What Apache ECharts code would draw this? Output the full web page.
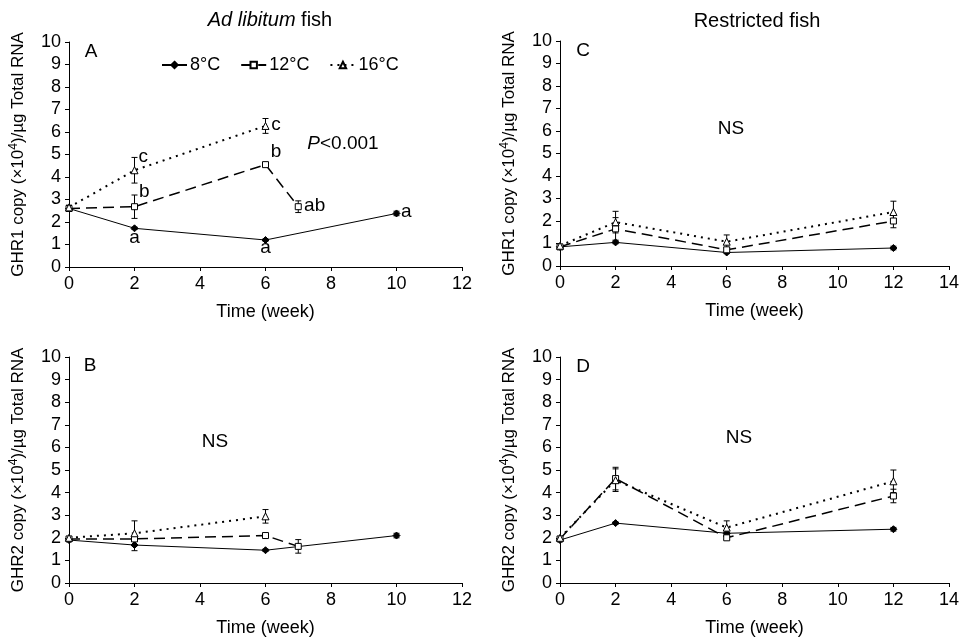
<!DOCTYPE html>
<html>
<head>
<meta charset="utf-8">
<script src="https://cdn.jsdelivr.net/npm/echarts@6/dist/echarts.min.js"></script>
<style>
html, body { margin: 0; background: #fff; }
#chart { width: 962px; height: 642px; }
</style>
</head>
<body>
<div id="chart"></div>
<script>
// [week, mean, SE]
const adLibGHR1_8 = [[0, 2.6, 0.08], [2, 1.72, 0.05], [6, 1.2, 0.05], [10, 2.38, 0.1]];
const adLibGHR1_12 = [[0, 2.6, 0.08], [2, 2.68, 0.52], [6, 4.55, 0.05], [7, 2.68, 0.26]];
const adLibGHR1_16 = [[0, 2.65, 0.1], [2, 4.3, 0.57], [6, 6.27, 0.33]];

const restrGHR1_8 = [[0, 0.85, 0.05], [2, 1.05, 0.06], [6, 0.6, 0.05], [12, 0.8, 0.08]];
const restrGHR1_12 = [[0, 0.85, 0.05], [2, 1.65, 0.5], [6, 0.72, 0.1], [12, 2.0, 0.3]];
const restrGHR1_16 = [[0, 0.9, 0.05], [2, 1.95, 0.48], [6, 1.08, 0.3], [12, 2.4, 0.48]];

const adLibGHR2_8 = [[0, 1.9, 0.05], [2, 1.68, 0.25], [6, 1.45, 0.05], [10, 2.1, 0.1]];
const adLibGHR2_12 = [[0, 1.95, 0.05], [2, 1.95, 0.1], [6, 2.1, 0.05], [7, 1.62, 0.3]];
const adLibGHR2_16 = [[0, 2.0, 0.05], [2, 2.2, 0.55], [6, 2.95, 0.3]];

const restrGHR2_8 = [[0, 1.9, 0.05], [2, 2.65, 0.05], [6, 2.2, 0.05], [12, 2.38, 0.08]];
const restrGHR2_12 = [[0, 1.95, 0.05], [2, 4.62, 0.5], [6, 2.0, 0.08], [12, 3.85, 0.3]];
const restrGHR2_16 = [[0, 2.0, 0.05], [2, 4.55, 0.5], [6, 2.45, 0.3], [12, 4.5, 0.5]];

// significance letters in panel A: [week, value, text]
const lettersA = [
    [2, 1.3, 'a'], [6, 0.84, 'a'], [10.3, 2.44, 'a'],
    [2.3, 3.33, 'b'], [6.32, 5.1, 'b'], [7.5, 2.72, 'ab'],
    [2.27, 4.9, 'c'], [6.32, 6.3, 'c']
];

const seriesNames = ['8°C', '12°C', '16°C'];
const xMaxes = [12, 14, 12, 14];
const yNames = ['GHR1', 'GHR1', 'GHR2', 'GHR2'];

const FONT = 'Liberation Sans, Arial, sans-serif';

const looks = {
    '8°C': { symbol: 'diamond', size: 7, fill: '#000', lineType: 'solid', width: 1 },
    '12°C': { symbol: 'rect', size: 6, fill: '#fff', lineType: [11, 6], width: 1.5 },
    '16°C': { symbol: 'triangle', size: 7, fill: '#fff', lineType: [2, 5], width: 2 },
};

const grids = [
    { left: 69, width: 393, top: 42, height: 225 },
    { left: 560, width: 393, top: 41, height: 225 },
    { left: 69, width: 393, top: 357, height: 226 },
    { left: 560, width: 393, top: 357, height: 226 },
];

function renderErr(params, api) {
    const x = api.value(0);
    const lo = api.coord([x, api.value(1)]);
    const hi = api.coord([x, api.value(2)]);
    const w = 3;
    const st = { stroke: '#000', lineWidth: 1 };
    return {
        type: 'group',
        children: [
            { type: 'line', shape: { x1: lo[0], y1: lo[1], x2: hi[0], y2: hi[1] }, style: st },
            { type: 'line', shape: { x1: lo[0] - w, y1: lo[1], x2: lo[0] + w, y2: lo[1] }, style: st },
            { type: 'line', shape: { x1: hi[0] - w, y1: hi[1], x2: hi[0] + w, y2: hi[1] }, style: st },
        ]
    };
}

const panels = [
    [adLibGHR1_8, adLibGHR1_12, adLibGHR1_16],
    [restrGHR1_8, restrGHR1_12, restrGHR1_16],
    [adLibGHR2_8, adLibGHR2_12, adLibGHR2_16],
    [restrGHR2_8, restrGHR2_12, restrGHR2_16],
];

let series = [];
panels.forEach((sets, idx) => {
    sets.forEach((d, k) => {
        const name = seriesNames[k];
        const lk = looks[name];
        series.push({
            type: 'custom',
            name: name + ' err',
            xAxisIndex: idx,
            yAxisIndex: idx,
            renderItem: renderErr,
            encode: { x: 0, y: [1, 2] },
            data: d.map(p => [p[0], p[1] - p[2], p[1] + p[2]]),
            z: 2,
            silent: true,
        });
        series.push({
            type: 'line',
            name: name,
            xAxisIndex: idx,
            yAxisIndex: idx,
            data: d.map(p => [p[0], p[1]]),
            symbol: lk.symbol,
            symbolSize: lk.size,
            showAllSymbol: true,
            lineStyle: { color: '#000', type: lk.lineType, width: lk.width },
            itemStyle: { color: lk.fill, borderColor: '#000', borderWidth: 1 },
            z: 3,
        });
    });
});

series.push({
    type: 'scatter',
    xAxisIndex: 0,
    yAxisIndex: 0,
    symbolSize: 0,
    itemStyle: { color: '#000', opacity: 1 },
    data: lettersA,
    label: {
        show: true,
        position: 'inside',
        formatter: p => p.data[2],
        color: '#000',
        opacity: 1,
        fontSize: 19,
        fontFamily: FONT,
    },
    silent: true,
    z: 4,
});

const axisText = { color: '#000', fontSize: 18, fontFamily: FONT };

function txt(x, y, text, extra) {
    return {
        type: 'text', x: x, y: y,
        style: Object.assign({ text: text, fontSize: 19, fontFamily: FONT, fill: '#000', align: 'center', verticalAlign: 'middle' }, extra || {})
    };
}

const option = {
    backgroundColor: '#fff',
    animation: false,
    textStyle: { fontFamily: FONT },
    legend: {
        data: seriesNames,
        left: 156,
        top: 51,
        itemWidth: 25,
        itemHeight: 8,
        itemGap: 20,
        textStyle: { color: '#000', fontSize: 18, fontFamily: FONT, padding: [0, 0, 0, -2] },
    },
    grid: grids,
    xAxis: xMaxes.map((mx, i) => ({
        type: 'value',
        gridIndex: i,
        min: 0,
        max: mx,
        interval: 2,
        name: 'Time (week)',
        nameLocation: 'middle',
        nameGap: 36,
        nameTextStyle: { color: '#000', fontSize: 18, fontFamily: FONT },
        axisLine: { show: true, onZero: false, lineStyle: { color: '#000', width: 1 } },
        axisTick: { show: true, inside: false, length: 4, lineStyle: { color: '#000' } },
        axisLabel: Object.assign({ margin: 8 }, axisText),
        splitLine: { show: false },
    })),
    yAxis: yNames.map((nm, i) => ({
        type: 'value',
        gridIndex: i,
        min: 0,
        max: 10,
        interval: 1,
        name: nm + ' copy (×10{sup|4})/µg Total RNA',
        nameLocation: 'middle',
        nameRotate: 90,
        nameGap: 41,
        nameTextStyle: {
            color: '#000', fontSize: 17, fontFamily: FONT,
            rich: { sup: { fontSize: 12, fontFamily: FONT, verticalAlign: 'bottom', padding: [0, 0, 8, 0] } }
        },
        axisLine: { show: true, lineStyle: { color: '#000', width: 1 } },
        axisTick: { show: true, inside: false, length: 4, lineStyle: { color: '#000' } },
        axisLabel: Object.assign({ margin: 8 }, axisText),
        splitLine: { show: false },
    })),
    graphic: [
        txt(270, 20, '{i|Ad libitum} fish', { fontSize: 20, rich: { i: { fontStyle: 'italic', fontSize: 20, fontFamily: FONT } } }),
        txt(757, 21, 'Restricted fish', { fontSize: 20 }),
        txt(91, 52, 'A'),
        txt(583, 51, 'C'),
        txt(90, 366, 'B'),
        txt(583, 367, 'D'),
        txt(343, 144, '{i|P}<0.001', { rich: { i: { fontStyle: 'italic', fontSize: 19, fontFamily: FONT } } }),
        txt(731, 129, 'NS'),
        txt(215, 442, 'NS'),
        txt(739, 438, 'NS'),
    ],
    series: series,
};

const chart = echarts.init(document.getElementById('chart'));
chart.setOption(option);
</script>
</body>
</html>
